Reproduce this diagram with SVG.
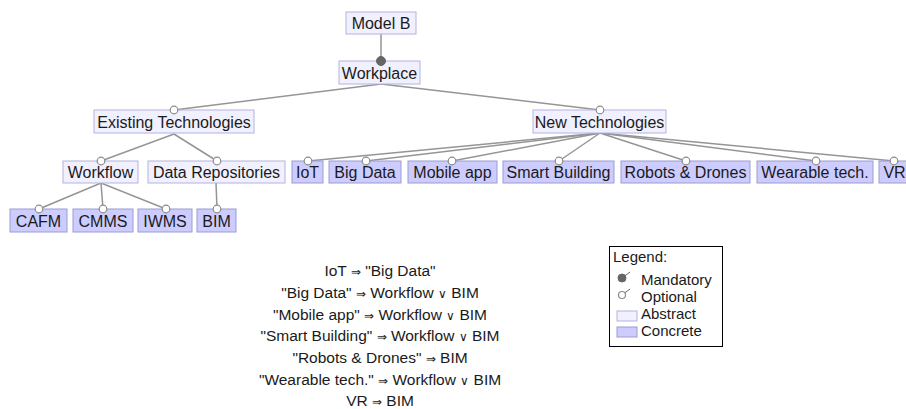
<svg xmlns="http://www.w3.org/2000/svg" width="906" height="409" viewBox="0 0 906 409">
<style>
text{font-family:"Liberation Sans",Arial,sans-serif;font-size:15px;fill:#1a1a1a}
.n text{text-anchor:middle;font-size:16px}
.abs{fill:#f0f0ff;stroke:#b4b4dc;stroke-width:1}
.con{fill:#ccccff;stroke:#9c9cd0;stroke-width:1}
.e{stroke:#959595;stroke-width:1.5;fill:none}
.opt{fill:#fff;stroke:#8c8c8c;stroke-width:1.2}
.man{fill:#666;stroke:#666;stroke-width:1}
.c text{text-anchor:middle;font-size:15.5px}
.a{font-size:12px}
</style>
<rect width="906" height="409" fill="#fff"/>
<g id="connectors">
<line class="e" x1="381" y1="34" x2="381" y2="61"/>
<line class="e" x1="381" y1="84" x2="174" y2="110"/>
<line class="e" x1="381" y1="84" x2="600" y2="110"/>
<line class="e" x1="174" y1="134" x2="101" y2="161"/>
<line class="e" x1="174" y1="134" x2="217" y2="161"/>
<line class="e" x1="101" y1="183" x2="39" y2="209"/>
<line class="e" x1="101" y1="183" x2="103" y2="209"/>
<line class="e" x1="101" y1="183" x2="166" y2="209"/>
<line class="e" x1="216" y1="183" x2="217" y2="209"/>
<line class="e" x1="600" y1="133" x2="308" y2="161"/>
<line class="e" x1="600" y1="133" x2="366" y2="161"/>
<line class="e" x1="600" y1="133" x2="452" y2="161"/>
<line class="e" x1="600" y1="133" x2="559" y2="161"/>
<line class="e" x1="600" y1="133" x2="686" y2="161"/>
<line class="e" x1="600" y1="133" x2="816" y2="161"/>
<line class="e" x1="600" y1="133" x2="894" y2="161"/>
</g>
<g id="n-modelb" class="n"><rect class="abs" x="346" y="12" width="70" height="22"/><text x="381" y="29">Model B</text></g>
<g id="n-workplace" class="n"><rect class="abs" x="339" y="61" width="81" height="23"/><text x="379.5" y="78.5">Workplace</text><circle class="man" cx="381" cy="61" r="4.5"/></g>
<g id="n-existing" class="n"><rect class="abs" x="94" y="110" width="160" height="23"/><text x="174" y="127.5">Existing Technologies</text><circle class="opt" cx="174" cy="110" r="3.8"/></g>
<g id="n-new" class="n"><rect class="abs" x="533" y="110" width="133" height="23"/><text x="599.5" y="127.5">New Technologies</text><circle class="opt" cx="600" cy="110" r="3.8"/></g>
<g id="n-workflow" class="n"><rect class="abs" x="63" y="161" width="75" height="22"/><text x="100.5" y="177.5">Workflow</text><circle class="opt" cx="101" cy="161" r="3.8"/></g>
<g id="n-datarep" class="n"><rect class="abs" x="148" y="161" width="137" height="22"/><text x="216.5" y="177.5">Data Repositories</text><circle class="opt" cx="217" cy="161" r="3.8"/></g>
<g id="n-iot" class="n"><rect class="con" x="292" y="161" width="31" height="22"/><text x="307.5" y="177.5">IoT</text><circle class="opt" cx="308" cy="161" r="3.8"/></g>
<g id="n-bigdata" class="n"><rect class="con" x="329" y="161" width="72" height="22"/><text x="365" y="177.5">Big Data</text><circle class="opt" cx="366" cy="161" r="3.8"/></g>
<g id="n-mobile" class="n"><rect class="con" x="408" y="161" width="89" height="22"/><text x="452.5" y="177.5">Mobile app</text><circle class="opt" cx="452" cy="161" r="3.8"/></g>
<g id="n-smart" class="n"><rect class="con" x="503" y="161" width="111" height="22"/><text x="558.5" y="177.5">Smart Building</text><circle class="opt" cx="559" cy="161" r="3.8"/></g>
<g id="n-robots" class="n"><rect class="con" x="621" y="161" width="129" height="22"/><text x="685.5" y="177.5">Robots &amp; Drones</text><circle class="opt" cx="686" cy="161" r="3.8"/></g>
<g id="n-wearable" class="n"><rect class="con" x="757" y="161" width="116" height="22"/><text x="815" y="177.5">Wearable tech.</text><circle class="opt" cx="816" cy="161" r="3.8"/></g>
<g id="n-vr" class="n"><rect class="con" x="879" y="161" width="31" height="22"/><text x="894.5" y="177.5">VR</text><circle class="opt" cx="894" cy="161" r="3.8"/></g>
<g id="n-cafm" class="n"><rect class="con" x="10" y="209" width="57" height="23"/><text x="38.5" y="226.5">CAFM</text><circle class="opt" cx="39" cy="209" r="3.8"/></g>
<g id="n-cmms" class="n"><rect class="con" x="73" y="209" width="60" height="23"/><text x="103" y="226.5">CMMS</text><circle class="opt" cx="103" cy="209" r="3.8"/></g>
<g id="n-iwms" class="n"><rect class="con" x="138" y="209" width="54" height="23"/><text x="165" y="226.5">IWMS</text><circle class="opt" cx="166" cy="209" r="3.8"/></g>
<g id="n-bim" class="n"><rect class="con" x="197" y="209" width="39" height="23"/><text x="216.5" y="226.5">BIM</text><circle class="opt" cx="217" cy="209" r="3.8"/></g>
<g id="constraints" class="c">
<text x="380" y="276">IoT <tspan class="a">⇒</tspan> "Big Data"</text>
<text x="380" y="298">"Big Data" <tspan class="a">⇒</tspan> Workflow <tspan class="a">∨</tspan> BIM</text>
<text x="380" y="319.5">"Mobile app" <tspan class="a">⇒</tspan> Workflow <tspan class="a">∨</tspan> BIM</text>
<text x="380" y="341">"Smart Building" <tspan class="a">⇒</tspan> Workflow <tspan class="a">∨</tspan> BIM</text>
<text x="380" y="363">"Robots &amp; Drones" <tspan class="a">⇒</tspan> BIM</text>
<text x="380" y="384.5">"Wearable tech." <tspan class="a">⇒</tspan> Workflow <tspan class="a">∨</tspan> BIM</text>
<text x="380" y="406">VR <tspan class="a">⇒</tspan> BIM</text>
</g>
<g id="legend">
<rect x="609.5" y="246.5" width="113" height="100" fill="#fff" stroke="#000" stroke-width="1"/>
<text x="613" y="262">Legend:</text>
<line x1="622" y1="278" x2="630" y2="272" stroke="#666" stroke-width="1"/>
<circle class="man" cx="622" cy="278" r="4"/>
<text x="641" y="285">Mandatory</text>
<line x1="622" y1="295" x2="630" y2="289" stroke="#666" stroke-width="1"/>
<circle class="opt" cx="622" cy="295" r="3.5"/>
<text x="641" y="302">Optional</text>
<rect class="abs" x="617" y="311" width="20" height="10"/>
<text x="641" y="319">Abstract</text>
<rect class="con" x="617" y="327" width="20" height="10"/>
<text x="641" y="336">Concrete</text>
</g>
</svg>
